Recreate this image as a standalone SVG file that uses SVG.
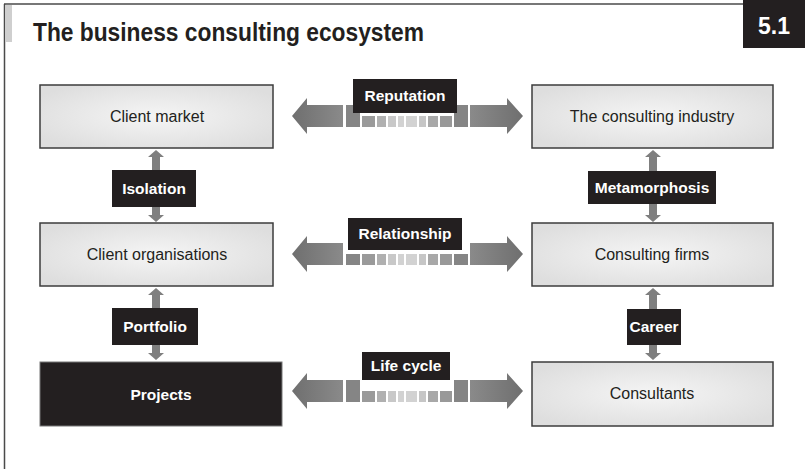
<svg xmlns="http://www.w3.org/2000/svg" width="805" height="469" viewBox="0 0 805 469">
<defs>
<radialGradient id="boxg" cx="50%" cy="50%" r="60%">
<stop offset="0" stop-color="#f5f5f5"/>
<stop offset="1" stop-color="#dedede"/>
</radialGradient>
<linearGradient id="arrg" x1="0" y1="0" x2="1" y2="0">
<stop offset="0" stop-color="#6f6f6f"/>
<stop offset="1" stop-color="#8a8a8a"/>
</linearGradient>
<linearGradient id="arrg2" x1="0" y1="0" x2="1" y2="0">
<stop offset="0" stop-color="#8a8a8a"/>
<stop offset="1" stop-color="#6f6f6f"/>
</linearGradient>
<g id="harrow">
<polygon fill="url(#arrg)" points="292,0 307,-18 307,-11 343,-11 343,11 307,11 307,18"/>
<polygon fill="url(#arrg2)" points="523,0 507,-18 507,-11 470,-11 470,11 507,11 507,18"/>
</g>
</defs>
<style>
.frame{stroke:#4a4a4a;stroke-width:1.5;fill:none}
.box{fill:url(#boxg);stroke:#3c3c3c;stroke-width:1.5}
.ntext{font-family:"Liberation Sans",Arial,sans-serif;font-size:16px;fill:#231f20;text-anchor:middle}
.lbl{fill:#231f20}
.ltext{font-family:"Liberation Sans",Arial,sans-serif;font-size:15.5px;font-weight:bold;fill:#ffffff;text-anchor:middle}
.varr{fill:#7f7f7f}
</style>

<g id="frame">
<line class="frame" x1="4" y1="4" x2="744" y2="4"/>
<line class="frame" x1="4.5" y1="4" x2="4.5" y2="469"/>
<rect x="5" y="5" width="7" height="37" fill="#cfcfcf"/>
<text x="33" y="41" font-family="Liberation Sans, Arial, sans-serif" font-size="25" font-weight="bold" fill="#231f20" textLength="391" lengthAdjust="spacingAndGlyphs">The business consulting ecosystem</text>
<rect x="743" y="0" width="62" height="48" fill="#231f20"/>
<text x="774" y="34" font-family="Liberation Sans, Arial, sans-serif" font-size="23" font-weight="bold" fill="#ffffff" text-anchor="middle">5.1</text>
</g>

<g id="connectors">
<g id="arrow-reputation" transform="translate(0,116)">
<use href="#harrow"/>
<rect x="346" y="-11" width="14" height="22" fill="#858585"/>
<rect x="362" y="0" width="13" height="11" fill="#9a9a9a"/>
<rect x="377" y="0" width="9" height="11" fill="#b0b0b0"/>
<rect x="388" y="0" width="8" height="11" fill="#c8c8c8"/>
<rect x="398" y="0" width="6" height="11" fill="#d2d2d2"/>
<rect x="406" y="0" width="11" height="11" fill="#d2d2d2"/>
<rect x="419" y="0" width="7" height="11" fill="#c6c6c6"/>
<rect x="428" y="0" width="10" height="11" fill="#a8a8a8"/>
<rect x="440" y="0" width="12" height="11" fill="#999999"/>
<rect x="454" y="-11" width="14" height="22" fill="#858585"/>
</g>
<g id="arrow-relationship" transform="translate(0,254)">
<use href="#harrow"/>
<rect x="346" y="0" width="14" height="11" fill="#858585"/>
<rect x="362" y="0" width="13" height="11" fill="#9a9a9a"/>
<rect x="377" y="0" width="9" height="11" fill="#b0b0b0"/>
<rect x="388" y="0" width="8" height="11" fill="#c8c8c8"/>
<rect x="398" y="0" width="6" height="11" fill="#d2d2d2"/>
<rect x="406" y="0" width="11" height="11" fill="#d2d2d2"/>
<rect x="419" y="0" width="7" height="11" fill="#c6c6c6"/>
<rect x="428" y="0" width="10" height="11" fill="#a8a8a8"/>
<rect x="440" y="0" width="12" height="11" fill="#999999"/>
<rect x="454" y="0" width="14" height="11" fill="#858585"/>
</g>
<g id="arrow-lifecycle" transform="translate(0,391)">
<use href="#harrow"/>
<rect x="346" y="-11" width="14" height="22" fill="#858585"/>
<rect x="362" y="0" width="13" height="11" fill="#9a9a9a"/>
<rect x="377" y="0" width="9" height="11" fill="#b0b0b0"/>
<rect x="388" y="0" width="8" height="11" fill="#c8c8c8"/>
<rect x="398" y="0" width="6" height="11" fill="#d2d2d2"/>
<rect x="406" y="0" width="11" height="11" fill="#d2d2d2"/>
<rect x="419" y="0" width="7" height="11" fill="#c6c6c6"/>
<rect x="428" y="0" width="10" height="11" fill="#a8a8a8"/>
<rect x="440" y="0" width="12" height="11" fill="#999999"/>
<rect x="454" y="-11" width="14" height="22" fill="#858585"/>
</g>
<g id="arrow-isolation">
<polygon class="varr" points="156,150 164,157 160,157 160,215 164,215 156,222 148,215 152,215 152,157 148,157"/>
</g>
<g id="arrow-portfolio">
<polygon class="varr" points="156,288 164,295 160,295 160,353 164,353 156,360 148,353 152,353 152,295 148,295"/>
</g>
<g id="arrow-metamorphosis">
<polygon class="varr" points="653,150 661,157 657,157 657,215 661,215 653,222 645,215 649,215 649,157 645,157"/>
</g>
<g id="arrow-career">
<polygon class="varr" points="653,288 661,295 657,295 657,353 661,353 653,360 645,353 649,353 649,295 645,295"/>
</g>
<g id="label-reputation"><rect class="lbl" x="353" y="79" width="104" height="34"/><text class="ltext" x="405" y="101">Reputation</text></g>
<g id="label-relationship"><rect class="lbl" x="348" y="218" width="114" height="32"/><text class="ltext" x="405" y="239">Relationship</text></g>
<g id="label-lifecycle"><rect class="lbl" x="362" y="352" width="88" height="28"/><text class="ltext" x="406" y="371">Life cycle</text></g>
<g id="label-isolation"><rect class="lbl" x="112" y="170" width="84" height="37"/><text class="ltext" x="154" y="194">Isolation</text></g>
<g id="label-portfolio"><rect class="lbl" x="112" y="308" width="86" height="37"/><text class="ltext" x="155" y="332">Portfolio</text></g>
<g id="label-metamorphosis"><rect class="lbl" x="588" y="171" width="128" height="33"/><text class="ltext" x="652" y="193">Metamorphosis</text></g>
<g id="label-career"><rect class="lbl" x="627" y="309" width="54" height="36"/><text class="ltext" x="654" y="332">Career</text></g>
</g>

<g id="node-client-market"><rect class="box" x="40" y="85" width="233" height="63"/><text class="ntext" x="157" y="122">Client market</text></g>
<g id="node-consulting-industry"><rect class="box" x="532" y="85" width="241" height="63"/><text class="ntext" x="652" y="122">The consulting industry</text></g>
<g id="node-client-organisations"><rect class="box" x="40" y="223" width="233" height="63"/><text class="ntext" x="157" y="260">Client organisations</text></g>
<g id="node-consulting-firms"><rect class="box" x="532" y="223" width="241" height="63"/><text class="ntext" x="652" y="260">Consulting firms</text></g>
<g id="node-projects"><rect x="40" y="362" width="242" height="64" fill="#231f20" stroke="#777" stroke-width="1"/><text class="ltext" x="161" y="400" font-size="17">Projects</text></g>
<g id="node-consultants"><rect class="box" x="532" y="362" width="241" height="64"/><text class="ntext" x="652" y="399">Consultants</text></g>
</svg>
